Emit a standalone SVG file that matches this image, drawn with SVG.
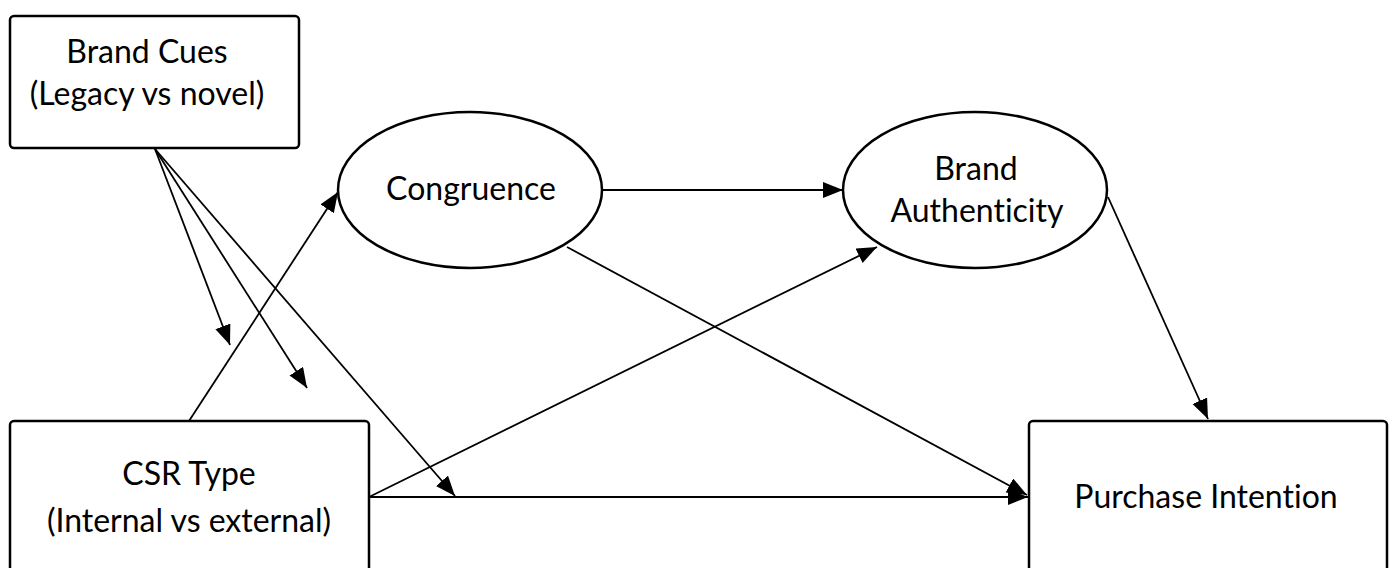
<svg xmlns="http://www.w3.org/2000/svg" width="1392" height="568" viewBox="0 0 1392 568">
<style>
.box{fill:#fff;stroke:#000;stroke-width:2.5}
.ell{fill:#fff;stroke:#000;stroke-width:2.5}
.lbl{font-family:Lato,"Open Sans","Liberation Sans",sans-serif;font-size:32px;fill:#000;text-anchor:middle;font-variant-ligatures:none}
.edge{stroke:#000;stroke-width:1.8;fill:none;marker-end:url(#ah)}
</style>
<defs>
<marker id="ah" markerUnits="userSpaceOnUse" markerWidth="22" markerHeight="18" refX="20" refY="8" orient="auto">
<path d="M0,0 L20,8 L0,16 Z" fill="#000"/>
</marker>
</defs>
<rect width="1392" height="568" fill="#fff"/>
<g id="connectors">
<line class="edge" x1="155" y1="149" x2="230" y2="345"/>
<line class="edge" x1="155" y1="149" x2="307" y2="388"/>
<line class="edge" x1="155" y1="149" x2="455" y2="496"/>
<line class="edge" x1="189" y1="421" x2="338" y2="192"/>
<line class="edge" x1="603" y1="190" x2="843" y2="190"/>
<line class="edge" x1="369" y1="497" x2="877" y2="247"/>
<line class="edge" x1="369" y1="497" x2="1028" y2="497"/>
<line class="edge" x1="567" y1="247" x2="1027" y2="495"/>
<line class="edge" x1="1108" y1="197" x2="1208" y2="419"/>
</g>
<g id="brand-cues">
<rect class="box" x="10" y="16" width="289" height="132" rx="4"/>
<text class="lbl" x="147" y="63">Brand Cues</text>
<text class="lbl" x="147" y="105">(Legacy vs novel)</text>
</g>
<g id="csr-type">
<rect class="box" x="10" y="421" width="359" height="170" rx="4"/>
<text class="lbl" x="189" y="485">CSR Type</text>
<text class="lbl" x="189" y="532">(Internal vs external)</text>
</g>
<g id="congruence">
<ellipse class="ell" cx="470" cy="190" rx="132" ry="78"/>
<text class="lbl" x="471" y="200">Congruence</text>
</g>
<g id="brand-authenticity">
<ellipse class="ell" cx="975" cy="190" rx="132" ry="78"/>
<text class="lbl" x="976" y="180">Brand</text>
<text class="lbl" x="977" y="222">Authenticity</text>
</g>
<g id="purchase-intention">
<rect class="box" x="1029" y="421" width="358" height="170" rx="4"/>
<text class="lbl" x="1206" y="508">Purchase Intention</text>
</g>
</svg>
